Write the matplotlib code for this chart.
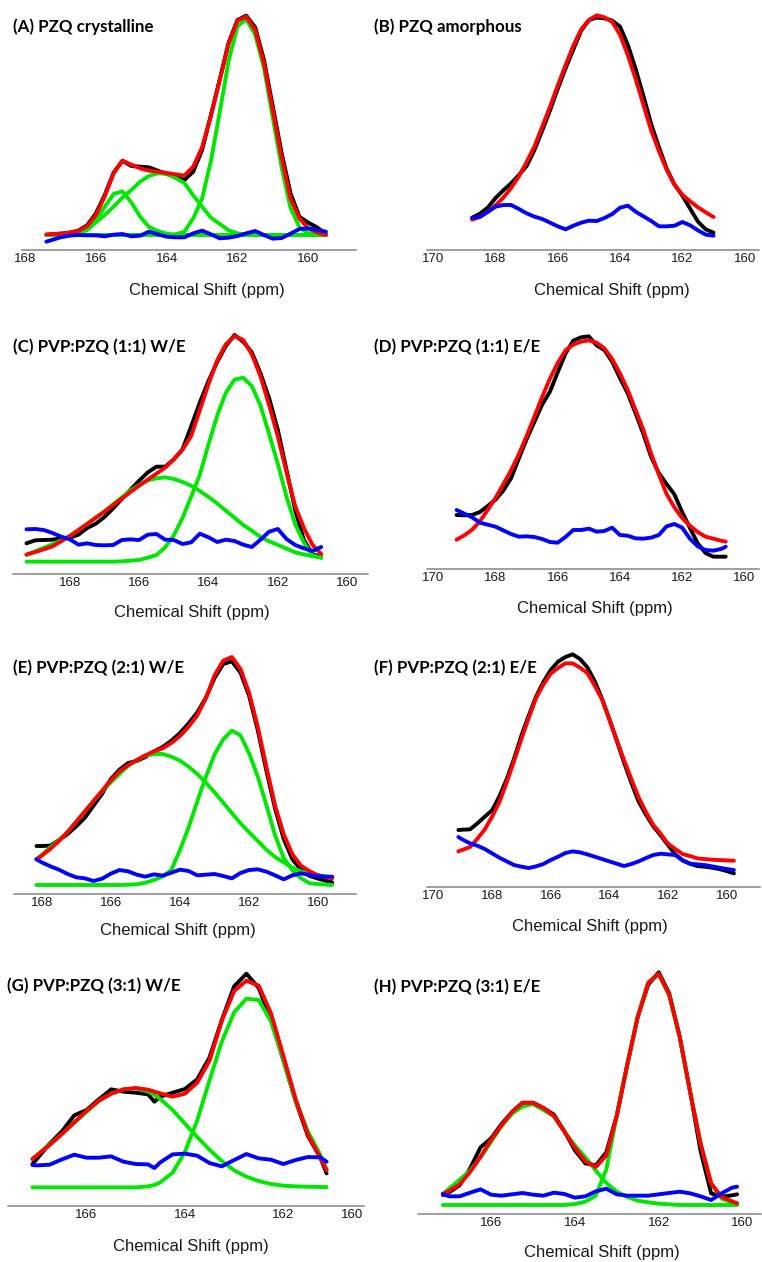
import matplotlib
matplotlib.use("Agg")
import matplotlib.pyplot as plt

plt.rcParams['font.family'] = ['Liberation Sans', 'DejaVu Sans']

# ---------------- data: chemical shift (ppm) and intensity (a.u.) ----------------
# (A) PZQ crystalline
ppm_a = [167.4, 167.25, 167.0, 166.75, 166.5, 166.25, 166.0, 165.75, 165.5, 165.25, 165.0,
         164.75, 164.5, 164.25, 164.0, 163.75, 163.5, 163.25, 163.0, 162.75, 162.5, 162.25,
         162.0, 161.75, 161.5, 161.25, 161.0, 160.75, 160.5, 160.25, 160.0, 159.75, 159.5]
exp_a = [45, 47, 49, 52, 58, 74, 110, 165, 232, 268, 252, 250, 248, 238, 228, 220, 210, 235, 300, 405,
         512, 622, 690, 703, 668, 570, 430, 290, 170, 100, 82, 68, 48]
fit_a = [47, 48, 49, 52, 57, 71, 105, 161, 230, 268, 256, 245, 238, 235, 231, 227, 223, 250, 308, 402,
         509, 619, 688, 700, 660, 560, 419, 276, 155, 95, 65, 53, 45]
comp_a1 = [45, 45, 45, 46, 48, 61, 88, 130, 168, 176, 143, 100, 69, 57, 49, 45, 45, 45, 45, 45,
           45, 45, 45, 45, 45, 45, 45, 45, 45, 45, 45, 45, 45]
comp_a2 = [45, 45, 45, 47, 52, 60, 83, 105, 130, 157, 180, 205, 222, 230, 229, 216, 201, 164, 130, 97,
           78, 59, 50, 46, 45, 45, 45, 45, 45, 45, 45, 45, 45]
comp_a3 = [45, 45, 45, 45, 45, 45, 45, 45, 45, 45, 45, 45, 45, 45, 45, 47, 55, 95, 154, 267,
           414, 567, 671, 692, 646, 546, 396, 247, 126, 69, 50, 46, 45]
res_a = [25, 30, 38, 43, 45, 44, 44, 41, 46, 48, 41, 43, 55, 47, 40, 38, 38, 50, 58, 47,
         35, 37, 42, 50, 57, 45, 34, 36, 49, 63, 65, 60, 55]

# (B) PZQ amorphous
ppm_b = [168.75, 168.5, 168.25, 168.0, 167.75, 167.5, 167.25, 167.0, 166.75, 166.5, 166.25,
         166.0, 165.75, 165.5, 165.25, 165.0, 164.75, 164.5, 164.25, 164.0, 163.75, 163.5,
         163.25, 163.0, 162.75, 162.5, 162.25, 162.0, 161.75, 161.5, 161.25, 161.0]
exp_b = [97, 109, 127, 156, 179, 200, 225, 252, 300, 358, 419, 484, 545, 602, 658, 690, 697, 695, 688, 670,
         615, 543, 462, 377, 308, 243, 196, 163, 124, 85, 62, 52]
fit_b = [91, 99, 115, 134, 157, 186, 221, 264, 311, 370, 430, 494, 555, 613, 662, 690, 704, 698, 684, 645,
         584, 513, 435, 358, 296, 240, 195, 166, 146, 128, 113, 99]
res_b = [96, 100, 114, 130, 135, 135, 123, 110, 100, 93, 82, 71, 62, 73, 82, 88, 87, 96, 108, 127,
         133, 115, 101, 87, 71, 71, 73, 84, 74, 59, 46, 43]

# (C) PVP:PZQ (1:1) W/E
ppm_c = [169.25, 169.0, 168.75, 168.5, 168.25, 168.0, 167.75, 167.5, 167.25, 167.0, 166.75,
         166.5, 166.25, 166.0, 165.75, 165.5, 165.25, 165.0, 164.75, 164.5, 164.25, 164.0,
         163.75, 163.5, 163.25, 163.0, 162.75, 162.5, 162.25, 162.0, 161.75, 161.5, 161.25,
         161.0, 160.75]
exp_c = [92, 101, 102, 103, 107, 109, 118, 138, 151, 171, 197, 225, 253, 280, 305, 322, 322, 344, 374, 443,
         515, 579, 636, 684, 717, 697, 665, 602, 527, 432, 312, 192, 102, 59, 52]
fit_c = [58, 66, 74, 83, 98, 114, 132, 150, 169, 187, 207, 226, 246, 265, 283, 301, 319, 344, 373, 414,
         492, 570, 641, 689, 714, 702, 659, 593, 506, 412, 305, 204, 138, 87, 60]
comp_c1 = [58, 68, 79, 89, 101, 114, 132, 150, 169, 188, 209, 230, 251, 267, 281, 287, 290, 285, 276, 265,
           249, 231, 212, 190, 169, 147, 130, 111, 98, 87, 76, 65, 59, 53, 51]
comp_c2 = [37, 37, 37, 37, 37, 37, 37, 37, 37, 37, 37, 38, 40, 42, 49, 57, 80, 116, 168, 232,
           298, 389, 475, 544, 583, 589, 564, 505, 419, 330, 232, 149, 94, 56, 48]
res_c = [134, 135, 132, 123, 112, 104, 88, 92, 87, 86, 87, 102, 104, 102, 118, 120, 103, 102, 90, 95,
         121, 110, 96, 103, 99, 88, 81, 103, 127, 135, 105, 87, 77, 69, 81]

# (D) PVP:PZQ (1:1) E/E
ppm_d = [169.25, 169.0, 168.75, 168.5, 168.25, 168.0, 167.75, 167.5, 167.25, 167.0, 166.75,
         166.5, 166.25, 166.0, 165.75, 165.5, 165.25, 165.0, 164.75, 164.5, 164.25, 164.0,
         163.75, 163.5, 163.25, 163.0, 162.75, 162.5, 162.25, 162.0, 161.75, 161.5, 161.25,
         161.0, 160.75, 160.6]
exp_d = [162, 161, 162, 171, 189, 208, 235, 272, 331, 389, 441, 493, 532, 590, 646, 685, 695, 698, 671, 657,
         622, 573, 527, 468, 406, 337, 288, 255, 224, 171, 123, 77, 48, 37, 37, 37]
fit_d = [88, 101, 118, 143, 177, 213, 254, 296, 344, 399, 457, 516, 571, 618, 656, 673, 682, 686, 679, 662,
         630, 587, 537, 478, 418, 347, 284, 225, 185, 153, 130, 111, 97, 91, 85, 82]
res_d = [177, 166, 155, 139, 133, 127, 116, 105, 97, 98, 96, 90, 81, 79, 96, 117, 117, 121, 112, 114,
         124, 102, 100, 92, 91, 94, 102, 128, 135, 124, 91, 68, 57, 55, 60, 67]

# (E) PVP:PZQ (2:1) W/E
ppm_e = [168.15, 168.0, 167.75, 167.5, 167.25, 167.0, 166.75, 166.5, 166.25, 166.0, 165.75,
         165.5, 165.25, 165.0, 164.75, 164.5, 164.25, 164.0, 163.75, 163.5, 163.25, 163.0,
         162.75, 162.5, 162.25, 162.0, 161.75, 161.5, 161.25, 161.0, 160.75, 160.5, 160.25,
         160.0, 159.75, 159.6]
exp_e = [144, 144, 145, 162, 180, 203, 229, 265, 301, 345, 373, 393, 399, 411, 428, 441, 460, 483, 512, 545,
         589, 648, 690, 698, 664, 594, 491, 369, 256, 165, 104, 73, 54, 46, 39, 35]
fit_e = [104, 115, 135, 159, 186, 217, 248, 279, 310, 341, 368, 386, 402, 416, 428, 437, 453, 474, 502, 536,
         588, 656, 700, 711, 675, 603, 501, 381, 265, 179, 119, 85, 68, 56, 50, 47]
comp_e1 = [104, 117, 140, 162, 186, 217, 248, 279, 308, 335, 360, 385, 401, 415, 420, 420, 412, 400, 382, 360,
           334, 305, 274, 243, 212, 185, 159, 133, 111, 95, 79, 68, 60, 56, 52, 50]
comp_e2 = [27, 27, 27, 27, 27, 27, 27, 27, 27, 27, 27, 28, 29, 34, 42, 53, 72, 132, 200, 278,
           352, 419, 464, 490, 476, 422, 352, 266, 176, 108, 71, 47, 32, 30, 28, 27]
res_e = [104, 95, 83, 73, 60, 50, 47, 39, 46, 61, 72, 68, 58, 52, 59, 55, 64, 73, 69, 56,
         58, 60, 54, 47, 63, 72, 74, 67, 56, 44, 56, 62, 57, 53, 52, 52]

# (F) PVP:PZQ (2:1) E/E
ppm_f = [169.15, 169.0, 168.75, 168.5, 168.25, 168.0, 167.75, 167.5, 167.25, 167.0, 166.75,
         166.5, 166.25, 166.0, 165.75, 165.5, 165.25, 165.0, 164.75, 164.5, 164.25, 164.0,
         163.75, 163.5, 163.25, 163.0, 162.75, 162.5, 162.25, 162.0, 161.75, 161.5, 161.25,
         161.0, 160.75, 160.5, 160.25, 160.0, 159.75]
exp_f = [170, 171, 172, 190, 210, 229, 271, 323, 384, 453, 513, 570, 614, 650, 675, 689, 697, 683, 658, 617,
         564, 503, 439, 373, 312, 255, 216, 181, 154, 125, 97, 79, 69, 62, 60, 57, 53, 47, 40]
fit_f = [106, 111, 119, 144, 172, 210, 254, 313, 377, 443, 506, 566, 606, 639, 656, 670, 670, 657, 641, 603,
         562, 501, 441, 380, 323, 268, 224, 185, 159, 129, 113, 98, 92, 85, 83, 81, 80, 79, 78]
res_f = [149, 141, 130, 123, 113, 100, 87, 76, 65, 60, 56, 61, 68, 80, 90, 101, 106, 103, 97, 90,
         83, 76, 69, 62, 68, 76, 86, 95, 99, 97, 95, 79, 69, 67, 65, 61, 57, 53, 50]

# (G) PVP:PZQ (3:1) W/E
ppm_g = [167.1, 167.0, 166.75, 166.5, 166.25, 166.0, 165.75, 165.5, 165.25, 165.0, 164.75,
         164.62, 164.5, 164.25, 164.0, 163.75, 163.5, 163.25, 163.0, 162.75, 162.5, 162.25,
         162.0, 161.75, 161.5, 161.25, 161.12]
exp_g = [125, 142, 186, 223, 271, 287, 319, 349, 342, 339, 334, 312, 327, 339, 350, 379, 445, 557, 658, 696,
         653, 558, 437, 314, 209, 145, 97]
fit_g = [140, 152, 182, 215, 250, 285, 315, 336, 349, 353, 348, 342, 337, 327, 336, 369, 435, 555, 644, 675,
         660, 577, 450, 320, 213, 145, 107]
comp_g1 = [140, 153, 184, 215, 249, 281, 314, 336, 349, 352, 343, 333, 320, 287, 246, 206, 168, 134, 106, 87,
           74, 65, 60, 58, 57, 56, 56]
comp_g2 = [55, 55, 55, 55, 55, 55, 55, 55, 55, 55, 58, 62, 70, 99, 161, 256, 376, 492, 580, 621,
           617, 553, 437, 314, 223, 153, 107]
res_g = [122, 121, 123, 139, 153, 144, 144, 148, 132, 125, 124, 113, 130, 154, 156, 150, 128, 118, 137, 155,
         142, 138, 125, 137, 146, 145, 132]

# (H) PVP:PZQ (3:1) E/E
ppm_h = [167.15, 167.0, 166.75, 166.5, 166.25, 166.0, 165.75, 165.5, 165.25, 165.0, 164.75,
         164.5, 164.25, 164.0, 163.75, 163.5, 163.25, 163.0, 162.75, 162.5, 162.25, 162.0,
         161.75, 161.5, 161.25, 161.0, 160.75, 160.5, 160.25, 160.13]
exp_h = [57, 65, 86, 137, 200, 227, 270, 306, 334, 334, 318, 298, 248, 191, 152, 146, 185, 296, 450, 592,
         688, 725, 662, 532, 366, 188, 62, 52, 56, 59]
fit_h = [60, 69, 89, 126, 172, 222, 266, 306, 333, 333, 318, 294, 247, 199, 158, 141, 176, 295, 447, 592,
         694, 721, 657, 532, 366, 211, 92, 51, 38, 32]
comp_h1 = [60, 76, 103, 131, 170, 217, 264, 301, 322, 330, 312, 293, 247, 206, 170, 130, 93, 67, 51, 40,
           35, 31, 29, 27, 27, 27, 27, 27, 27, 27]
comp_h2 = [27, 27, 27, 27, 27, 27, 27, 27, 27, 27, 27, 27, 27, 30, 37, 55, 134, 295, 447, 592,
           694, 719, 657, 532, 366, 211, 92, 46, 35, 30]
res_h = [60, 53, 53, 64, 74, 58, 55, 59, 63, 58, 55, 64, 60, 49, 53, 68, 76, 59, 55, 55,
         55, 59, 63, 67, 62, 53, 42, 62, 79, 82]

# ---------------- layout (pixel boxes: left, right, top, bottom) ----------------
W, H = 762, 1262
panels = [
    dict(title="(A) PZQ crystalline", ppm=ppm_a, exp=exp_a, fit=fit_a, comps=[comp_a1, comp_a2, comp_a3], res=res_a,
         box=(22.3, 356, 0, 250), ytop=750, xlim=(168.08, 158.65), ticks=[168, 166, 164, 162, 160],
         title_xy=(13, 27), label_xy=(207, 290)),
    dict(title="(B) PZQ amorphous", ppm=ppm_b, exp=exp_b, fit=fit_b, comps=[], res=res_b,
         box=(426.7, 759.3, 0, 250), ytop=750, xlim=(170.21, 159.53), ticks=[170, 168, 166, 164, 162, 160],
         title_xy=(374, 27), label_xy=(612, 291)),
    dict(title="(C) PVP:PZQ (1:1) W/E", ppm=ppm_c, exp=exp_c, fit=fit_c, comps=[comp_c1, comp_c2], res=res_c,
         box=(13.3, 368, 310, 574), ytop=792, xlim=(169.63, 159.40), ticks=[168, 166, 164, 162, 160],
         title_xy=(13, 347), label_xy=(192, 613)),
    dict(title="(D) PVP:PZQ (1:1) E/E", ppm=ppm_d, exp=exp_d, fit=fit_d, comps=[], res=res_d,
         box=(426.7, 759.3, 310, 569), ytop=777, xlim=(170.21, 159.52), ticks=[170, 168, 166, 164, 162, 160],
         title_xy=(374, 347), label_xy=(595, 608)),
    dict(title="(E) PVP:PZQ (2:1) W/E", ppm=ppm_e, exp=exp_e, fit=fit_e, comps=[comp_e1, comp_e2], res=res_e,
         box=(14, 356, 620, 894), ytop=822, xlim=(168.80, 158.91), ticks=[168, 166, 164, 162, 160],
         title_xy=(13, 668), label_xy=(178, 930)),
    dict(title="(F) PVP:PZQ (2:1) E/E", ppm=ppm_f, exp=exp_f, fit=fit_f, comps=[], res=res_f,
         box=(426.7, 760, 620, 886.7), ytop=800, xlim=(170.23, 158.86), ticks=[170, 168, 166, 164, 162, 160],
         title_xy=(374, 668), label_xy=(590, 927)),
    dict(title="(G) PVP:PZQ (3:1) W/E", ppm=ppm_g, exp=exp_g, fit=fit_g, comps=[comp_g1, comp_g2], res=res_g,
         box=(8.3, 364, 940, 1205.7), ytop=797, xlim=(167.59, 160.36), ticks=[166, 164, 162, 160.61],
         ticklabels=["166", "164", "162", "160"],
         title_xy=(7, 986), label_xy=(191, 1247)),
    dict(title="(H) PVP:PZQ (3:1) E/E", ppm=ppm_h, exp=exp_h, fit=fit_h, comps=[comp_h1, comp_h2], res=res_h,
         box=(417.7, 761, 940, 1214), ytop=822, xlim=(167.75, 159.56), ticks=[166, 164, 162, 160],
         title_xy=(374, 987), label_xy=(602, 1252)),
]

LW = 2.8
line_kw = dict(lw=LW, solid_capstyle="round", solid_joinstyle="round")
fig = plt.figure(figsize=(W / 100, H / 100), dpi=100)

for p in panels:
    l, r, t, b = p["box"]
    ax = fig.add_axes([l / W, 1 - b / H, (r - l) / W, (b - t) / H])
    ax.plot(p["ppm"], p["exp"], color="black", zorder=2, **line_kw)
    for c in p["comps"]:
        ax.plot(p["ppm"], c, color="#00e600", zorder=3, **line_kw)
    ax.plot(p["ppm"], p["fit"], color="#ff0000", zorder=4, **line_kw)
    ax.plot(p["ppm"], p["res"], color="#0000ff", zorder=5, **line_kw)

    ax.set_xlim(*p["xlim"])
    ax.set_ylim(0, p["ytop"])
    ax.set_xticks(p["ticks"])
    ax.set_xticklabels(p.get("ticklabels", [str(v) for v in p["ticks"]]))
    ax.set_yticks([])
    for s in ("left", "right", "top"):
        ax.spines[s].set_visible(False)
    ax.spines["bottom"].set_color("#858585")
    ax.spines["bottom"].set_linewidth(1.1)
    ax.tick_params(axis="x", length=0, pad=2.5, labelsize=9.5, colors="#1a1a1a")
    ax.patch.set_alpha(0)

    # axis label and panel title, positioned from pixel coordinates
    lx, ly = p["label_xy"]
    ax.set_xlabel("Chemical Shift (ppm)", fontsize=12, color="#1a1a1a")
    ax.xaxis.set_label_coords((lx - l) / (r - l), (b - ly) / (b - t))
    ax.xaxis.label.set_va("center")
    tx, ty = p["title_xy"]
    ax.text((tx - l) / (r - l), (b - ty) / (b - t), p["title"], transform=ax.transAxes,
            ha="left", va="center", fontsize=12.2, fontweight="bold",
            family=["Lato", "DejaVu Sans"], color="black")

fig.savefig("out.png", dpi=100)
